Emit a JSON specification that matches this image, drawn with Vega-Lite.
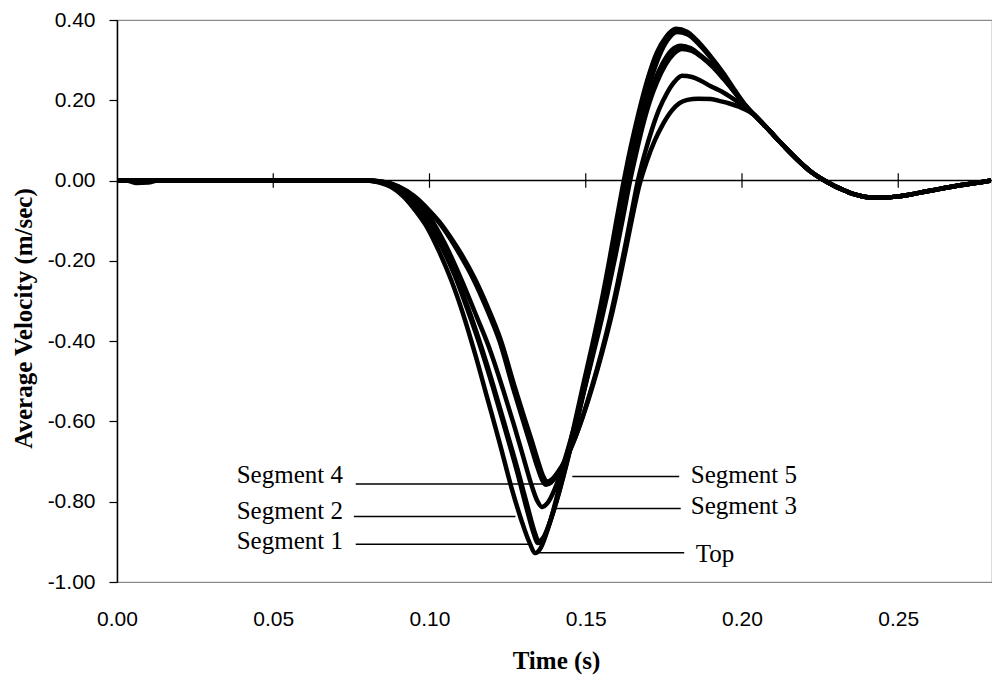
{
  "$schema": "https://vega.github.io/schema/vega-lite/v6.json",
  "autosize": {"type": "none"},
  "padding": {"left": 117, "top": 20, "right": 0, "bottom": 94},
  "width": 875,
  "height": 562,
  "background": "white",
  "config": {"view": {"stroke": "#8a8a8a", "strokeWidth": 1.2}},
  "datasets": {
    "curves": [
      {"s":"Top","t":0,"v":0},{"s":"Top","t":0.003,"v":0},{"s":"Top","t":0.006,"v":-0.006},{"s":"Top","t":0.010,"v":-0.005},{"s":"Top","t":0.013,"v":0},{"s":"Top","t":0.0799,"v":0},{"s":"Top","t":0.0840,"v":-0.005},{"s":"Top","t":0.0879,"v":-0.017},{"s":"Top","t":0.0917,"v":-0.040},{"s":"Top","t":0.0955,"v":-0.075},{"s":"Top","t":0.0994,"v":-0.119},{"s":"Top","t":0.1032,"v":-0.179},{"s":"Top","t":0.1070,"v":-0.249},{"s":"Top","t":0.1109,"v":-0.336},{"s":"Top","t":0.1147,"v":-0.435},{"s":"Top","t":0.1185,"v":-0.542},{"s":"Top","t":0.1224,"v":-0.652},{"s":"Top","t":0.1262,"v":-0.764},{"s":"Top","t":0.1294,"v":-0.846},{"s":"Top","t":0.1319,"v":-0.900},{"s":"Top","t":0.1339,"v":-0.928},{"s":"Top","t":0.1356,"v":-0.915},{"s":"Top","t":0.1380,"v":-0.865},{"s":"Top","t":0.1405,"v":-0.795},{"s":"Top","t":0.1432,"v":-0.712},{"s":"Top","t":0.1460,"v":-0.620},{"s":"Top","t":0.1490,"v":-0.515},{"s":"Top","t":0.1520,"v":-0.412},{"s":"Top","t":0.1548,"v":-0.310},{"s":"Top","t":0.1575,"v":-0.200},{"s":"Top","t":0.1598,"v":-0.100},{"s":"Top","t":0.1618,"v":-0.015},{"s":"Top","t":0.1636,"v":0.055},{"s":"Top","t":0.1655,"v":0.122},{"s":"Top","t":0.1676,"v":0.190},{"s":"Top","t":0.1700,"v":0.258},{"s":"Top","t":0.1727,"v":0.318},{"s":"Top","t":0.1757,"v":0.358},{"s":"Top","t":0.1789,"v":0.378},{"s":"Top","t":0.1824,"v":0.371},{"s":"Top","t":0.1863,"v":0.343},{"s":"Top","t":0.1901,"v":0.308},{"s":"Top","t":0.1939,"v":0.269},{"s":"Top","t":0.1978,"v":0.224},{"s":"Top","t":0.2012,"v":0.187},
      {"s":"Top","t":0.2040,"v":0.163},{"s":"Top","t":0.2065,"v":0.143},{"s":"Top","t":0.2092,"v":0.121},{"s":"Top","t":0.2118,"v":0.099},{"s":"Top","t":0.2145,"v":0.077},{"s":"Top","t":0.2172,"v":0.056},{"s":"Top","t":0.2198,"v":0.037},{"s":"Top","t":0.2224,"v":0.020},{"s":"Top","t":0.2251,"v":0.006},{"s":"Top","t":0.2278,"v":-0.006},{"s":"Top","t":0.2305,"v":-0.017},{"s":"Top","t":0.2332,"v":-0.026},{"s":"Top","t":0.2358,"v":-0.034},{"s":"Top","t":0.2383,"v":-0.039},{"s":"Top","t":0.2410,"v":-0.042},{"s":"Top","t":0.2438,"v":-0.043},{"s":"Top","t":0.2465,"v":-0.042},{"s":"Top","t":0.2492,"v":-0.040},{"s":"Top","t":0.2520,"v":-0.037},{"s":"Top","t":0.2543,"v":-0.034},{"s":"Top","t":0.2570,"v":-0.030},{"s":"Top","t":0.2597,"v":-0.026},{"s":"Top","t":0.2625,"v":-0.022},{"s":"Top","t":0.2652,"v":-0.018},{"s":"Top","t":0.2680,"v":-0.014},{"s":"Top","t":0.2703,"v":-0.011},{"s":"Top","t":0.2730,"v":-0.008},{"s":"Top","t":0.2757,"v":-0.005},{"s":"Top","t":0.2796,"v":0.0},

      {"s":"Segment 1","t":0,"v":0},{"s":"Segment 1","t":0.0799,"v":0},{"s":"Segment 1","t":0.0840,"v":-0.004},{"s":"Segment 1","t":0.0879,"v":-0.015},{"s":"Segment 1","t":0.0920,"v":-0.036},{"s":"Segment 1","t":0.0960,"v":-0.068},{"s":"Segment 1","t":0.1000,"v":-0.110},{"s":"Segment 1","t":0.1040,"v":-0.167},{"s":"Segment 1","t":0.1080,"v":-0.235},{"s":"Segment 1","t":0.1120,"v":-0.318},{"s":"Segment 1","t":0.1162,"v":-0.412},{"s":"Segment 1","t":0.1203,"v":-0.515},{"s":"Segment 1","t":0.1243,"v":-0.622},{"s":"Segment 1","t":0.1282,"v":-0.730},{"s":"Segment 1","t":0.1311,"v":-0.817},{"s":"Segment 1","t":0.1333,"v":-0.878},{"s":"Segment 1","t":0.1347,"v":-0.903},{"s":"Segment 1","t":0.1364,"v":-0.892},{"s":"Segment 1","t":0.1388,"v":-0.845},{"s":"Segment 1","t":0.1413,"v":-0.780},{"s":"Segment 1","t":0.1440,"v":-0.700},{"s":"Segment 1","t":0.1470,"v":-0.603},{"s":"Segment 1","t":0.1500,"v":-0.502},{"s":"Segment 1","t":0.1530,"v":-0.398},{"s":"Segment 1","t":0.1558,"v":-0.295},{"s":"Segment 1","t":0.1585,"v":-0.190},{"s":"Segment 1","t":0.1609,"v":-0.092},{"s":"Segment 1","t":0.1630,"v":-0.010},{"s":"Segment 1","t":0.1649,"v":0.062},{"s":"Segment 1","t":0.1668,"v":0.130},{"s":"Segment 1","t":0.1688,"v":0.195},{"s":"Segment 1","t":0.1710,"v":0.255},{"s":"Segment 1","t":0.1735,"v":0.310},{"s":"Segment 1","t":0.1762,"v":0.350},{"s":"Segment 1","t":0.1792,"v":0.370},{"s":"Segment 1","t":0.1826,"v":0.364},{"s":"Segment 1","t":0.1864,"v":0.338},{"s":"Segment 1","t":0.1902,"v":0.304},{"s":"Segment 1","t":0.1940,"v":0.266},{"s":"Segment 1","t":0.1978,"v":0.222},{"s":"Segment 1","t":0.2012,"v":0.186},
      {"s":"Segment 1","t":0.2040,"v":0.163},{"s":"Segment 1","t":0.2065,"v":0.143},{"s":"Segment 1","t":0.2092,"v":0.121},{"s":"Segment 1","t":0.2118,"v":0.099},{"s":"Segment 1","t":0.2145,"v":0.077},{"s":"Segment 1","t":0.2172,"v":0.056},{"s":"Segment 1","t":0.2198,"v":0.037},{"s":"Segment 1","t":0.2224,"v":0.020},{"s":"Segment 1","t":0.2251,"v":0.006},{"s":"Segment 1","t":0.2278,"v":-0.006},{"s":"Segment 1","t":0.2305,"v":-0.017},{"s":"Segment 1","t":0.2332,"v":-0.026},{"s":"Segment 1","t":0.2358,"v":-0.034},{"s":"Segment 1","t":0.2383,"v":-0.039},{"s":"Segment 1","t":0.2410,"v":-0.042},{"s":"Segment 1","t":0.2438,"v":-0.043},{"s":"Segment 1","t":0.2465,"v":-0.042},{"s":"Segment 1","t":0.2492,"v":-0.040},{"s":"Segment 1","t":0.2520,"v":-0.037},{"s":"Segment 1","t":0.2543,"v":-0.034},{"s":"Segment 1","t":0.2570,"v":-0.030},{"s":"Segment 1","t":0.2597,"v":-0.026},{"s":"Segment 1","t":0.2625,"v":-0.022},{"s":"Segment 1","t":0.2652,"v":-0.018},{"s":"Segment 1","t":0.2680,"v":-0.014},{"s":"Segment 1","t":0.2703,"v":-0.011},{"s":"Segment 1","t":0.2730,"v":-0.008},{"s":"Segment 1","t":0.2757,"v":-0.005},{"s":"Segment 1","t":0.2796,"v":0.0},

      {"s":"Segment 2","t":0,"v":0},{"s":"Segment 2","t":0.0799,"v":0},{"s":"Segment 2","t":0.0840,"v":-0.004},{"s":"Segment 2","t":0.0879,"v":-0.015},{"s":"Segment 2","t":0.0920,"v":-0.036},{"s":"Segment 2","t":0.0962,"v":-0.068},{"s":"Segment 2","t":0.1002,"v":-0.110},{"s":"Segment 2","t":0.1043,"v":-0.167},{"s":"Segment 2","t":0.1083,"v":-0.235},{"s":"Segment 2","t":0.1124,"v":-0.318},{"s":"Segment 2","t":0.1165,"v":-0.412},{"s":"Segment 2","t":0.1206,"v":-0.515},{"s":"Segment 2","t":0.1246,"v":-0.622},{"s":"Segment 2","t":0.1285,"v":-0.728},{"s":"Segment 2","t":0.1314,"v":-0.813},{"s":"Segment 2","t":0.1335,"v":-0.872},{"s":"Segment 2","t":0.1349,"v":-0.898},{"s":"Segment 2","t":0.1366,"v":-0.887},{"s":"Segment 2","t":0.1390,"v":-0.840},{"s":"Segment 2","t":0.1415,"v":-0.776},{"s":"Segment 2","t":0.1442,"v":-0.696},{"s":"Segment 2","t":0.1472,"v":-0.600},{"s":"Segment 2","t":0.1502,"v":-0.500},{"s":"Segment 2","t":0.1532,"v":-0.396},{"s":"Segment 2","t":0.1560,"v":-0.293},{"s":"Segment 2","t":0.1587,"v":-0.188},{"s":"Segment 2","t":0.1611,"v":-0.090},{"s":"Segment 2","t":0.1632,"v":-0.008},{"s":"Segment 2","t":0.1652,"v":0.062},{"s":"Segment 2","t":0.1672,"v":0.128},{"s":"Segment 2","t":0.1694,"v":0.190},{"s":"Segment 2","t":0.1718,"v":0.244},{"s":"Segment 2","t":0.1746,"v":0.292},{"s":"Segment 2","t":0.1775,"v":0.325},{"s":"Segment 2","t":0.1805,"v":0.336},{"s":"Segment 2","t":0.1835,"v":0.330},{"s":"Segment 2","t":0.1870,"v":0.310},{"s":"Segment 2","t":0.1904,"v":0.287},{"s":"Segment 2","t":0.1940,"v":0.256},{"s":"Segment 2","t":0.1975,"v":0.222},{"s":"Segment 2","t":0.2012,"v":0.185},
      {"s":"Segment 2","t":0.2040,"v":0.163},{"s":"Segment 2","t":0.2065,"v":0.143},{"s":"Segment 2","t":0.2092,"v":0.121},{"s":"Segment 2","t":0.2118,"v":0.099},{"s":"Segment 2","t":0.2145,"v":0.077},{"s":"Segment 2","t":0.2172,"v":0.056},{"s":"Segment 2","t":0.2198,"v":0.037},{"s":"Segment 2","t":0.2224,"v":0.020},{"s":"Segment 2","t":0.2251,"v":0.006},{"s":"Segment 2","t":0.2278,"v":-0.006},{"s":"Segment 2","t":0.2305,"v":-0.017},{"s":"Segment 2","t":0.2332,"v":-0.026},{"s":"Segment 2","t":0.2358,"v":-0.034},{"s":"Segment 2","t":0.2383,"v":-0.039},{"s":"Segment 2","t":0.2410,"v":-0.042},{"s":"Segment 2","t":0.2438,"v":-0.043},{"s":"Segment 2","t":0.2465,"v":-0.042},{"s":"Segment 2","t":0.2492,"v":-0.040},{"s":"Segment 2","t":0.2520,"v":-0.037},{"s":"Segment 2","t":0.2543,"v":-0.034},{"s":"Segment 2","t":0.2570,"v":-0.030},{"s":"Segment 2","t":0.2597,"v":-0.026},{"s":"Segment 2","t":0.2625,"v":-0.022},{"s":"Segment 2","t":0.2652,"v":-0.018},{"s":"Segment 2","t":0.2680,"v":-0.014},{"s":"Segment 2","t":0.2703,"v":-0.011},{"s":"Segment 2","t":0.2730,"v":-0.008},{"s":"Segment 2","t":0.2757,"v":-0.005},{"s":"Segment 2","t":0.2796,"v":0.0},

      {"s":"Segment 3","t":0,"v":0},{"s":"Segment 3","t":0.0799,"v":0},{"s":"Segment 3","t":0.0850,"v":-0.004},{"s":"Segment 3","t":0.0900,"v":-0.018},{"s":"Segment 3","t":0.0950,"v":-0.045},{"s":"Segment 3","t":0.1000,"v":-0.090},{"s":"Segment 3","t":0.1050,"v":-0.158},{"s":"Segment 3","t":0.1100,"v":-0.243},{"s":"Segment 3","t":0.1150,"v":-0.337},{"s":"Segment 3","t":0.1195,"v":-0.425},{"s":"Segment 3","t":0.1236,"v":-0.522},{"s":"Segment 3","t":0.1270,"v":-0.608},{"s":"Segment 3","t":0.1300,"v":-0.688},{"s":"Segment 3","t":0.1325,"v":-0.755},{"s":"Segment 3","t":0.1345,"v":-0.798},{"s":"Segment 3","t":0.1360,"v":-0.813},{"s":"Segment 3","t":0.1378,"v":-0.803},{"s":"Segment 3","t":0.1400,"v":-0.770},{"s":"Segment 3","t":0.1425,"v":-0.715},{"s":"Segment 3","t":0.1452,"v":-0.645},{"s":"Segment 3","t":0.1482,"v":-0.560},{"s":"Segment 3","t":0.1512,"v":-0.470},{"s":"Segment 3","t":0.1542,"v":-0.375},{"s":"Segment 3","t":0.1570,"v":-0.280},{"s":"Segment 3","t":0.1597,"v":-0.180},{"s":"Segment 3","t":0.1621,"v":-0.085},{"s":"Segment 3","t":0.1642,"v":0.0},{"s":"Segment 3","t":0.1662,"v":0.070},{"s":"Segment 3","t":0.1682,"v":0.135},{"s":"Segment 3","t":0.1704,"v":0.195},{"s":"Segment 3","t":0.1728,"v":0.245},{"s":"Segment 3","t":0.1755,"v":0.288},{"s":"Segment 3","t":0.1782,"v":0.316},{"s":"Segment 3","t":0.1808,"v":0.328},{"s":"Segment 3","t":0.1840,"v":0.323},{"s":"Segment 3","t":0.1875,"v":0.305},{"s":"Segment 3","t":0.1908,"v":0.282},{"s":"Segment 3","t":0.1942,"v":0.252},{"s":"Segment 3","t":0.1978,"v":0.218},{"s":"Segment 3","t":0.2012,"v":0.184},
      {"s":"Segment 3","t":0.2040,"v":0.163},{"s":"Segment 3","t":0.2065,"v":0.143},{"s":"Segment 3","t":0.2092,"v":0.121},{"s":"Segment 3","t":0.2118,"v":0.099},{"s":"Segment 3","t":0.2145,"v":0.077},{"s":"Segment 3","t":0.2172,"v":0.056},{"s":"Segment 3","t":0.2198,"v":0.037},{"s":"Segment 3","t":0.2224,"v":0.020},{"s":"Segment 3","t":0.2251,"v":0.006},{"s":"Segment 3","t":0.2278,"v":-0.006},{"s":"Segment 3","t":0.2305,"v":-0.017},{"s":"Segment 3","t":0.2332,"v":-0.026},{"s":"Segment 3","t":0.2358,"v":-0.034},{"s":"Segment 3","t":0.2383,"v":-0.039},{"s":"Segment 3","t":0.2410,"v":-0.042},{"s":"Segment 3","t":0.2438,"v":-0.043},{"s":"Segment 3","t":0.2465,"v":-0.042},{"s":"Segment 3","t":0.2492,"v":-0.040},{"s":"Segment 3","t":0.2520,"v":-0.037},{"s":"Segment 3","t":0.2543,"v":-0.034},{"s":"Segment 3","t":0.2570,"v":-0.030},{"s":"Segment 3","t":0.2597,"v":-0.026},{"s":"Segment 3","t":0.2625,"v":-0.022},{"s":"Segment 3","t":0.2652,"v":-0.018},{"s":"Segment 3","t":0.2680,"v":-0.014},{"s":"Segment 3","t":0.2703,"v":-0.011},{"s":"Segment 3","t":0.2730,"v":-0.008},{"s":"Segment 3","t":0.2757,"v":-0.005},{"s":"Segment 3","t":0.2796,"v":0.0},

      {"s":"Segment 4","t":0,"v":0},{"s":"Segment 4","t":0.0799,"v":0},{"s":"Segment 4","t":0.0850,"v":-0.003},{"s":"Segment 4","t":0.0900,"v":-0.015},{"s":"Segment 4","t":0.0950,"v":-0.040},{"s":"Segment 4","t":0.1000,"v":-0.078},{"s":"Segment 4","t":0.1030,"v":-0.104},{"s":"Segment 4","t":0.1065,"v":-0.143},{"s":"Segment 4","t":0.1100,"v":-0.188},{"s":"Segment 4","t":0.1140,"v":-0.245},{"s":"Segment 4","t":0.1180,"v":-0.314},{"s":"Segment 4","t":0.1224,"v":-0.400},{"s":"Segment 4","t":0.1268,"v":-0.518},{"s":"Segment 4","t":0.1300,"v":-0.600},{"s":"Segment 4","t":0.1322,"v":-0.655},{"s":"Segment 4","t":0.1345,"v":-0.713},{"s":"Segment 4","t":0.1360,"v":-0.745},{"s":"Segment 4","t":0.1373,"v":-0.758},{"s":"Segment 4","t":0.1389,"v":-0.752},{"s":"Segment 4","t":0.1409,"v":-0.733},{"s":"Segment 4","t":0.1432,"v":-0.702},{"s":"Segment 4","t":0.1459,"v":-0.655},{"s":"Segment 4","t":0.1489,"v":-0.590},{"s":"Segment 4","t":0.1519,"v":-0.515},{"s":"Segment 4","t":0.1549,"v":-0.432},{"s":"Segment 4","t":0.1577,"v":-0.345},{"s":"Segment 4","t":0.1603,"v":-0.252},{"s":"Segment 4","t":0.1627,"v":-0.160},{"s":"Segment 4","t":0.1648,"v":-0.075},{"s":"Segment 4","t":0.1667,"v":0.0},{"s":"Segment 4","t":0.1688,"v":0.065},{"s":"Segment 4","t":0.1712,"v":0.128},{"s":"Segment 4","t":0.1735,"v":0.178},{"s":"Segment 4","t":0.1760,"v":0.218},{"s":"Segment 4","t":0.1784,"v":0.246},{"s":"Segment 4","t":0.1808,"v":0.261},{"s":"Segment 4","t":0.1840,"v":0.258},{"s":"Segment 4","t":0.1870,"v":0.248},{"s":"Segment 4","t":0.1900,"v":0.235},{"s":"Segment 4","t":0.1935,"v":0.222},{"s":"Segment 4","t":0.1970,"v":0.205},{"s":"Segment 4","t":0.2005,"v":0.186},
      {"s":"Segment 4","t":0.2040,"v":0.163},{"s":"Segment 4","t":0.2065,"v":0.143},{"s":"Segment 4","t":0.2092,"v":0.121},{"s":"Segment 4","t":0.2118,"v":0.099},{"s":"Segment 4","t":0.2145,"v":0.077},{"s":"Segment 4","t":0.2172,"v":0.056},{"s":"Segment 4","t":0.2198,"v":0.037},{"s":"Segment 4","t":0.2224,"v":0.020},{"s":"Segment 4","t":0.2251,"v":0.006},{"s":"Segment 4","t":0.2278,"v":-0.006},{"s":"Segment 4","t":0.2305,"v":-0.017},{"s":"Segment 4","t":0.2332,"v":-0.026},{"s":"Segment 4","t":0.2358,"v":-0.034},{"s":"Segment 4","t":0.2383,"v":-0.039},{"s":"Segment 4","t":0.2410,"v":-0.042},{"s":"Segment 4","t":0.2438,"v":-0.043},{"s":"Segment 4","t":0.2465,"v":-0.042},{"s":"Segment 4","t":0.2492,"v":-0.040},{"s":"Segment 4","t":0.2520,"v":-0.037},{"s":"Segment 4","t":0.2543,"v":-0.034},{"s":"Segment 4","t":0.2570,"v":-0.030},{"s":"Segment 4","t":0.2597,"v":-0.026},{"s":"Segment 4","t":0.2625,"v":-0.022},{"s":"Segment 4","t":0.2652,"v":-0.018},{"s":"Segment 4","t":0.2680,"v":-0.014},{"s":"Segment 4","t":0.2703,"v":-0.011},{"s":"Segment 4","t":0.2730,"v":-0.008},{"s":"Segment 4","t":0.2757,"v":-0.005},{"s":"Segment 4","t":0.2796,"v":0.0},

      {"s":"Segment 5","t":0,"v":0},{"s":"Segment 5","t":0.0799,"v":0},{"s":"Segment 5","t":0.0850,"v":-0.003},{"s":"Segment 5","t":0.0900,"v":-0.014},{"s":"Segment 5","t":0.0950,"v":-0.038},{"s":"Segment 5","t":0.1000,"v":-0.075},{"s":"Segment 5","t":0.1032,"v":-0.103},{"s":"Segment 5","t":0.1068,"v":-0.142},{"s":"Segment 5","t":0.1104,"v":-0.186},{"s":"Segment 5","t":0.1144,"v":-0.243},{"s":"Segment 5","t":0.1184,"v":-0.311},{"s":"Segment 5","t":0.1228,"v":-0.397},{"s":"Segment 5","t":0.1272,"v":-0.512},{"s":"Segment 5","t":0.1304,"v":-0.592},{"s":"Segment 5","t":0.1326,"v":-0.645},{"s":"Segment 5","t":0.1348,"v":-0.701},{"s":"Segment 5","t":0.1363,"v":-0.735},{"s":"Segment 5","t":0.1376,"v":-0.750},{"s":"Segment 5","t":0.1392,"v":-0.744},{"s":"Segment 5","t":0.1412,"v":-0.725},{"s":"Segment 5","t":0.1435,"v":-0.695},{"s":"Segment 5","t":0.1462,"v":-0.648},{"s":"Segment 5","t":0.1492,"v":-0.585},{"s":"Segment 5","t":0.1522,"v":-0.512},{"s":"Segment 5","t":0.1552,"v":-0.430},{"s":"Segment 5","t":0.1580,"v":-0.345},{"s":"Segment 5","t":0.1606,"v":-0.255},{"s":"Segment 5","t":0.1630,"v":-0.165},{"s":"Segment 5","t":0.1652,"v":-0.080},{"s":"Segment 5","t":0.1672,"v":-0.010},{"s":"Segment 5","t":0.1694,"v":0.045},{"s":"Segment 5","t":0.1720,"v":0.098},{"s":"Segment 5","t":0.1748,"v":0.142},{"s":"Segment 5","t":0.1776,"v":0.175},{"s":"Segment 5","t":0.1800,"v":0.193},{"s":"Segment 5","t":0.1825,"v":0.201},{"s":"Segment 5","t":0.1860,"v":0.204},{"s":"Segment 5","t":0.1900,"v":0.203},{"s":"Segment 5","t":0.1930,"v":0.198},{"s":"Segment 5","t":0.1960,"v":0.192},{"s":"Segment 5","t":0.1990,"v":0.184},
      {"s":"Segment 5","t":0.2040,"v":0.163},{"s":"Segment 5","t":0.2065,"v":0.143},{"s":"Segment 5","t":0.2092,"v":0.121},{"s":"Segment 5","t":0.2118,"v":0.099},{"s":"Segment 5","t":0.2145,"v":0.077},{"s":"Segment 5","t":0.2172,"v":0.056},{"s":"Segment 5","t":0.2198,"v":0.037},{"s":"Segment 5","t":0.2224,"v":0.020},{"s":"Segment 5","t":0.2251,"v":0.006},{"s":"Segment 5","t":0.2278,"v":-0.006},{"s":"Segment 5","t":0.2305,"v":-0.017},{"s":"Segment 5","t":0.2332,"v":-0.026},{"s":"Segment 5","t":0.2358,"v":-0.034},{"s":"Segment 5","t":0.2383,"v":-0.039},{"s":"Segment 5","t":0.2410,"v":-0.042},{"s":"Segment 5","t":0.2438,"v":-0.043},{"s":"Segment 5","t":0.2465,"v":-0.042},{"s":"Segment 5","t":0.2492,"v":-0.040},{"s":"Segment 5","t":0.2520,"v":-0.037},{"s":"Segment 5","t":0.2543,"v":-0.034},{"s":"Segment 5","t":0.2570,"v":-0.030},{"s":"Segment 5","t":0.2597,"v":-0.026},{"s":"Segment 5","t":0.2625,"v":-0.022},{"s":"Segment 5","t":0.2652,"v":-0.018},{"s":"Segment 5","t":0.2680,"v":-0.014},{"s":"Segment 5","t":0.2703,"v":-0.011},{"s":"Segment 5","t":0.2730,"v":-0.008},{"s":"Segment 5","t":0.2757,"v":-0.005},{"s":"Segment 5","t":0.2796,"v":0.0}
    ],
    "leaders": [
      {"label":"Segment 4","t":0.0764,"t2":0.1372,"v":-0.756},
      {"label":"Segment 2","t":0.0758,"t2":0.1275,"v":-0.837},
      {"label":"Segment 1","t":0.0764,"t2":0.1318,"v":-0.906},
      {"label":"Segment 5","t":0.1457,"t2":0.1799,"v":-0.737},
      {"label":"Segment 3","t":0.1393,"t2":0.1804,"v":-0.817},
      {"label":"Top","t":0.1351,"t2":0.1815,"v":-0.927}
    ],
    "labels": [
      {"label":"Segment 4","t":0.0383,"v":-0.7545},
      {"label":"Segment 2","t":0.0383,"v":-0.843},
      {"label":"Segment 1","t":0.0383,"v":-0.918},
      {"label":"Segment 5","t":0.1836,"v":-0.7545},
      {"label":"Segment 3","t":0.1836,"v":-0.831},
      {"label":"Top","t":0.1852,"v":-0.949}
    ],
    "zticks": [
      {"t":0.05,"v":-0.018,"v2":0.018},
      {"t":0.10,"v":-0.018,"v2":0.018},
      {"t":0.15,"v":-0.018,"v2":0.018},
      {"t":0.20,"v":-0.018,"v2":0.018},
      {"t":0.25,"v":-0.018,"v2":0.018}
    ]
  },
  "layer": [
    {
      "data": {"name": "zticks"},
      "mark": {"type": "rule", "color": "black", "strokeWidth": 1.2},
      "encoding": {
        "x": {"field": "t", "type": "quantitative",
          "scale": {"domain": [0, 0.28], "nice": false, "zero": false},
          "axis": {
            "orient": "bottom",
            "values": [0, 0.05, 0.1, 0.15, 0.2, 0.25],
            "labelExpr": "replace(format(datum.value, '.2f'), '\u2212', '-')",
            "labelFlush": false,
            "ticks": false, "tickSize": 0, "domain": false, "grid": false,
            "labelPadding": 26, "labelFont": "Liberation Sans", "labelFontSize": 21, "labelColor": "black",
            "title": "Time (s)", "titleFont": "Liberation Serif", "titleFontSize": 25, "titleFontWeight": "bold", "titleColor": "black",
            "titleBaseline": "middle", "titleAlign": "center", "titleX": 439, "titleY": 78
          }
        },
        "y": {"field": "v", "type": "quantitative",
          "scale": {"domain": [-1, 0.4], "nice": false, "zero": false},
          "axis": {
            "orient": "left",
            "values": [-1, -0.8, -0.6, -0.4, -0.2, 0, 0.2, 0.4],
            "labelExpr": "replace(format(datum.value, '.2f'), '\u2212', '-')",
            "labelFlush": false,
            "grid": false, "domainColor": "black", "domainWidth": 1.5,
            "tickColor": "black", "tickSize": 8, "tickWidth": 1.2,
            "labelPadding": 14, "labelFont": "Liberation Sans", "labelFontSize": 21, "labelColor": "black",
            "title": "Average Velocity (m/sec)", "titleFont": "Liberation Serif", "titleFontSize": 25, "titleFontWeight": "bold", "titleColor": "black",
            "titleAngle": -90, "titleBaseline": "middle", "titleAlign": "center", "titleX": -94, "titleY": 298
          }
        },
        "y2": {"field": "v2"}
      }
    },
    {
      "data": {"values": [{"v": 0}]},
      "mark": {"type": "rule", "color": "black", "strokeWidth": 1.5},
      "encoding": {"y": {"field": "v", "type": "quantitative"}}
    },
    {
      "data": {"name": "curves"},
      "mark": {"type": "line", "color": "black", "strokeWidth": 4.5, "interpolate": "monotone", "clip": true},
      "encoding": {
        "x": {"field": "t", "type": "quantitative"},
        "y": {"field": "v", "type": "quantitative"},
        "detail": {"field": "s"}
      }
    },
    {
      "data": {"name": "leaders"},
      "mark": {"type": "rule", "color": "black", "strokeWidth": 1.5},
      "encoding": {
        "x": {"field": "t", "type": "quantitative"},
        "x2": {"field": "t2"},
        "y": {"field": "v", "type": "quantitative"}
      }
    },
    {
      "data": {"name": "labels"},
      "mark": {"type": "text", "align": "left", "baseline": "alphabetic", "font": "Liberation Serif", "fontSize": 25, "color": "black"},
      "encoding": {
        "x": {"field": "t", "type": "quantitative"},
        "y": {"field": "v", "type": "quantitative"},
        "text": {"field": "label"}
      }
    }
  ]
}
